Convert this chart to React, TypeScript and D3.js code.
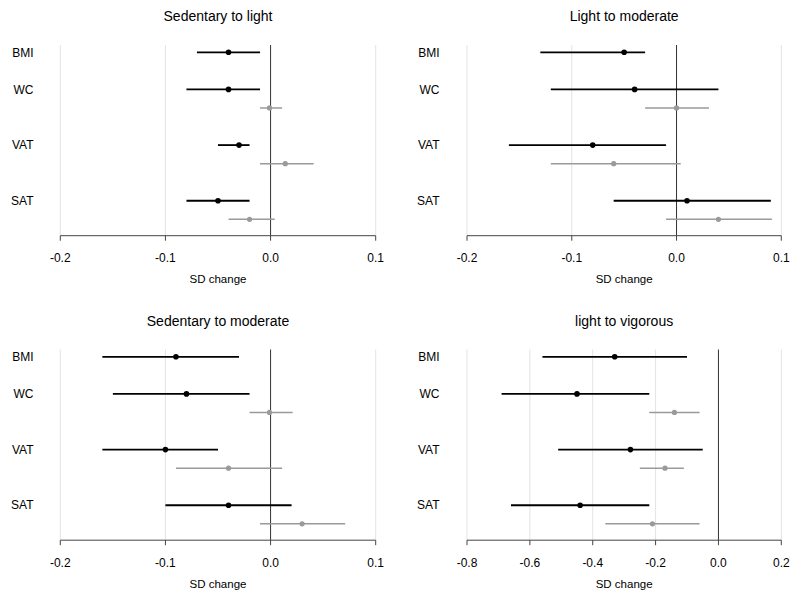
import * as d3 from "d3";

const measures = ["BMI", "WC", "VAT", "SAT"];
const panelTitles = ["Sedentary to light", "Light to moderate", "Sedentary to moderate", "light to vigorous"];
const xDomains: [number, number][] = [[-0.2, 0.1], [-0.2, 0.1], [-0.2, 0.1], [-0.8, 0.2]];
const xTickValues = [
  [-0.2, -0.1, 0.0, 0.1],
  [-0.2, -0.1, 0.0, 0.1],
  [-0.2, -0.1, 0.0, 0.1],
  [-0.8, -0.6, -0.4, -0.2, 0.0, 0.2],
];

// black estimates (one row per panel, order BMI, WC, VAT, SAT)
const blackEst = [
  [-0.04, -0.04, -0.03, -0.05],
  [-0.05, -0.04, -0.08, 0.01],
  [-0.09, -0.08, -0.1, -0.04],
  [-0.33, -0.45, -0.28, -0.44],
];
const blackLo = [
  [-0.07, -0.08, -0.05, -0.08],
  [-0.13, -0.12, -0.16, -0.06],
  [-0.16, -0.15, -0.16, -0.1],
  [-0.56, -0.69, -0.51, -0.66],
];
const blackHi = [
  [-0.01, -0.01, -0.02, -0.02],
  [-0.03, 0.04, -0.01, 0.09],
  [-0.03, -0.02, -0.05, 0.02],
  [-0.1, -0.22, -0.05, -0.22],
];
// grey estimates (no BMI)
const greyEst = [
  [null, -0.001, 0.014, -0.02],
  [null, 0.0, -0.06, 0.04],
  [null, -0.001, -0.04, 0.03],
  [null, -0.14, -0.17, -0.21],
];
const greyLo = [
  [null, -0.01, -0.01, -0.04],
  [null, -0.03, -0.12, -0.01],
  [null, -0.02, -0.09, -0.01],
  [null, -0.22, -0.25, -0.36],
];
const greyHi = [
  [null, 0.011, 0.041, 0.004],
  [null, 0.031, 0.004, 0.091],
  [null, 0.021, 0.011, 0.071],
  [null, -0.06, -0.11, -0.06],
];

const font = "'Liberation Sans', Arial, sans-serif";
const fmt = (t: number) => d3.format(".1f")(t).replace("\u2212", "-");

function Panel({ index, ox, oy }: { index: number; ox: number; oy: number }) {
  const left = ox === 0 ? 60.3 : 67;
  const right = ox === 0 ? 375.7 : 381.3;
  const labelX = ox === 0 ? 33.5 : 39.5;
  const axisY = 235.7;
  const gridTop = 45;

  const x = d3.scaleLinear().domain(xDomains[index]).range([left, right]);
  const y = d3.scaleLinear().domain([0, 9]).range([52.3, 219.3]);
  const ticks = xTickValues[index];

  return (
    <g transform={`translate(${ox},${oy})`} fontFamily={font}>
      <text x={(left + right) / 2} y={21} textAnchor="middle" fontSize={14} fill="#000">
        {panelTitles[index]}
      </text>
      {ticks.map((t) =>
        t === 0 ? null : (
          <line key={"g" + t} x1={x(t)} x2={x(t)} y1={gridTop} y2={axisY} stroke="#e3e3e3" strokeWidth={1} />
        )
      )}
      <line x1={x(0)} x2={x(0)} y1={gridTop} y2={axisY} stroke="#333" strokeWidth={1} />
      {measures.map((m, i) => (
        <text key={m} x={labelX} y={y(i === 0 ? 0 : i * 3 - 1)} dy="0.35em" textAnchor="end" fontSize={12} fill="#000">
          {m}
        </text>
      ))}
      {measures.map((m, i) => {
        const row = i === 0 ? 0 : i * 3 - 1;
        const ge = greyEst[index][i];
        return (
          <g key={"d" + m}>
            <line x1={x(blackLo[index][i])} x2={x(blackHi[index][i])} y1={y(row)} y2={y(row)} stroke="#000" strokeWidth={1.8} />
            <circle cx={x(blackEst[index][i])} cy={y(row)} r={2.8} fill="#000" />
            {ge !== null && (
              <>
                <line x1={x(greyLo[index][i] as number)} x2={x(greyHi[index][i] as number)} y1={y(row + 1)} y2={y(row + 1)} stroke="#9a9a9a" strokeWidth={1.5} />
                <circle cx={x(ge)} cy={y(row + 1)} r={2.6} fill="#9a9a9a" />
              </>
            )}
          </g>
        );
      })}
      <line x1={left} x2={right} y1={axisY} y2={axisY} stroke="#444" strokeWidth={1} />
      {ticks.map((t) => (
        <g key={"t" + t}>
          <line x1={x(t)} x2={x(t)} y1={axisY} y2={axisY + 5} stroke="#444" strokeWidth={1} />
          <text x={x(t)} y={262} textAnchor="middle" fontSize={12} fill="#000">
            {fmt(t)}
          </text>
        </g>
      ))}
      <text x={(left + right) / 2} y={283} textAnchor="middle" fontSize={11.5} fill="#000">
        SD change
      </text>
    </g>
  );
}

export default function App() {
  return (
    <svg width={800} height={601} style={{ position: "absolute", left: 0, top: 0, background: "#fff" }}>
      <rect width={800} height={601} fill="#fff" />
      <Panel index={0} ox={0} oy={0} />
      <Panel index={1} ox={400} oy={0} />
      <Panel index={2} ox={0} oy={304.5} />
      <Panel index={3} ox={400} oy={304.5} />
    </svg>
  );
}
